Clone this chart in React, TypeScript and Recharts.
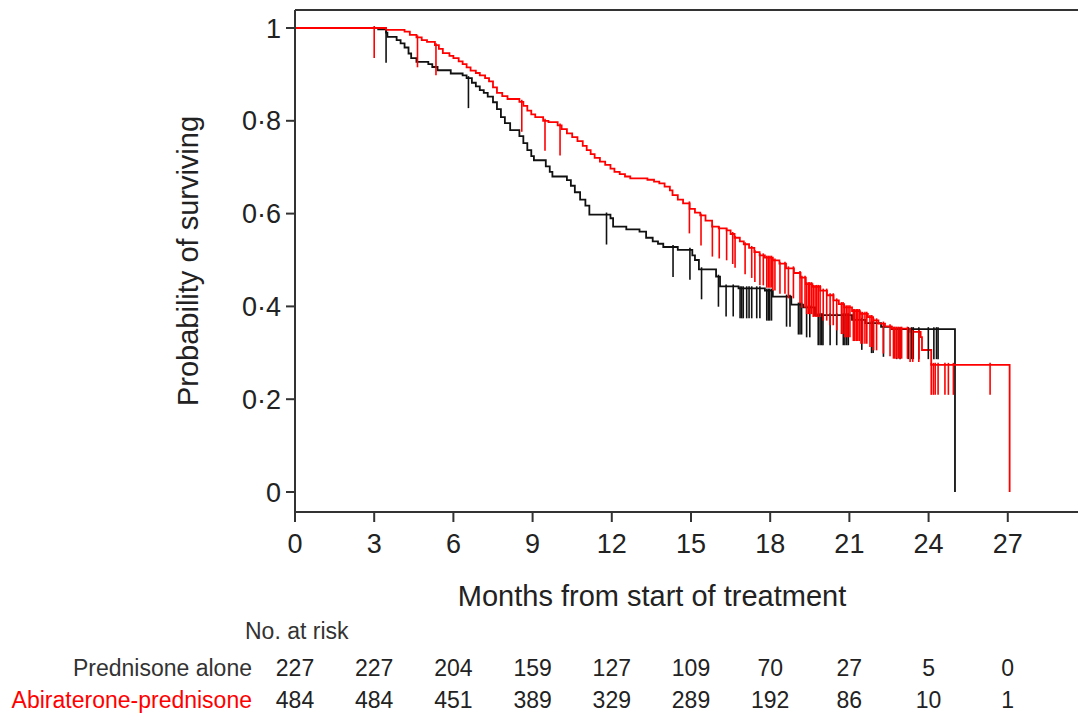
import { ComposedChart, Line, Scatter, XAxis, YAxis, ReferenceLine } from "recharts";

// x axis ticks (months) and numbers at risk under each tick
const months = [0, 3, 6, 9, 12, 15, 18, 21, 24, 27];
const predAtRisk = [227, 227, 204, 159, 127, 109, 70, 27, 5, 0];
const abiAtRisk = [484, 484, 451, 389, 329, 289, 192, 86, 10, 1];

const yTicks = [0, 0.2, 0.4, 0.6, 0.8, 1];

// Kaplan-Meier steps: Prednisone alone (black)
const predTime = [
  0, 3.15, 3.45, 3.5, 3.85, 4.0, 4.15, 4.3, 4.4, 4.6, 5.05, 5.2, 5.4, 5.9, 6.35,
  6.5, 6.7, 6.85, 7.0, 7.15, 7.3, 7.5, 7.65, 7.8, 7.95, 8.15, 8.5, 8.65, 8.8,
  8.95, 9.05, 9.5, 9.65, 9.75, 10.3, 10.45, 10.6, 10.8, 11.0, 11.15, 11.95,
  12.05, 12.55, 13.05, 13.3, 13.55, 13.75, 13.95, 14.5, 15.05, 15.15, 15.3,
  15.95, 16.1, 16.8, 17.8, 18.1, 18.8, 19.25, 19.7, 21.1, 21.6, 22.2, 22.6, 25.0,
];
const predSurv = [
  1, 0.997, 0.99, 0.981, 0.974, 0.967, 0.958, 0.945, 0.935, 0.927, 0.922, 0.916,
  0.909, 0.902, 0.898, 0.892, 0.882, 0.874, 0.866, 0.86, 0.852, 0.84, 0.825,
  0.808, 0.795, 0.78, 0.767, 0.752, 0.737, 0.724, 0.715, 0.702, 0.69, 0.68,
  0.672, 0.66, 0.646, 0.63, 0.617, 0.598, 0.59, 0.572, 0.566, 0.561, 0.548,
  0.54, 0.535, 0.528, 0.522, 0.51, 0.5, 0.48, 0.464, 0.443, 0.439, 0.434,
  0.421, 0.404, 0.398, 0.381, 0.371, 0.364, 0.356, 0.351, 0,
];
const predCensor = [
  3.45, 6.57, 11.8, 14.32, 14.96, 15.4, 16.04, 16.33, 16.6, 16.86, 16.92, 16.98,
  17.11, 17.2, 17.3, 17.49, 17.61, 17.87, 17.93, 17.98, 18.05, 18.62, 18.75,
  19.07, 19.13, 19.19, 19.38, 19.5, 19.82, 19.89, 19.95, 20.0, 20.27, 20.52,
  20.77, 20.83, 20.9, 20.96, 21.47, 21.84, 21.9, 22.29, 22.79, 22.92, 23.23,
  23.36, 23.42, 23.63, 23.99, 24.2, 24.3, 24.36,
];

// Abiraterone-prednisone (red)
const abiTime = [
  0, 3.45, 4.15, 4.35, 4.6, 4.8, 5.0, 5.3, 5.45, 5.6, 5.85, 6.0, 6.2, 6.35, 6.5,
  6.65, 6.85, 7.0, 7.2, 7.35, 7.5, 7.65, 7.85, 8.05, 8.5, 8.65, 8.8, 8.95, 9.1,
  9.4, 9.6, 9.95, 10.1, 10.3, 10.5, 10.7, 10.9, 11.05, 11.2, 11.35, 11.55,
  11.75, 11.95, 12.1, 12.3, 12.5, 12.7, 13.35, 13.6, 13.8, 14.0, 14.2, 14.3,
  14.5, 14.7, 14.95, 15.15, 15.35, 15.55, 15.8, 16.05, 16.35, 16.5, 16.65,
  16.85, 17.0, 17.2, 17.4, 17.6, 17.8, 18.1, 18.35, 18.6, 18.9, 19.15, 19.35,
  19.6, 19.9, 20.15, 20.4, 20.6, 20.8, 21.1, 21.4, 21.7, 21.9, 22.1, 22.35,
  22.6, 23.3, 23.7, 23.75, 24.1, 27.07,
];
const abiSurv = [
  1, 0.996, 0.992, 0.985, 0.98, 0.974, 0.97, 0.963, 0.955, 0.946, 0.94, 0.935,
  0.928, 0.922, 0.915, 0.908, 0.903, 0.898, 0.892, 0.885, 0.872, 0.86, 0.853,
  0.847, 0.841, 0.832, 0.822, 0.814, 0.808, 0.8, 0.797, 0.79, 0.782, 0.773,
  0.765, 0.756, 0.746, 0.737, 0.728, 0.72, 0.712, 0.705, 0.697, 0.69, 0.685,
  0.68, 0.676, 0.673, 0.669, 0.665, 0.658, 0.65, 0.64, 0.63, 0.622, 0.61,
  0.602, 0.596, 0.585, 0.572, 0.568, 0.564, 0.556, 0.548, 0.54, 0.534, 0.526,
  0.517, 0.51, 0.505, 0.499, 0.492, 0.482, 0.472, 0.462, 0.448, 0.442, 0.434,
  0.424, 0.413, 0.405, 0.398, 0.39, 0.384, 0.377, 0.37, 0.363, 0.357, 0.352,
  0.345, 0.334, 0.306, 0.274, 0,
];
const abiCensor = [
  3.0, 4.64, 5.34, 8.59, 9.47, 10.04, 14.94, 15.38, 15.81, 16.07, 16.35, 16.58,
  16.67, 17.05, 17.3, 17.42, 17.61, 17.74, 17.87, 17.93, 17.99, 18.05, 18.1,
  18.18, 18.37, 18.56, 18.69, 18.88, 19.13, 19.2, 19.32, 19.38, 19.45, 19.5,
  19.57, 19.63, 19.7, 19.76, 19.82, 19.89, 20.01, 20.14, 20.27, 20.39, 20.52,
  20.7, 20.76, 20.82, 20.89, 20.95, 21.02, 21.15, 21.2, 21.26, 21.32, 21.38,
  21.44, 21.5, 21.59, 21.66, 21.78, 21.85, 21.92, 22.03, 22.29, 22.54, 22.67,
  22.72, 22.78, 22.85, 22.92, 22.98, 23.2, 23.3, 23.4, 23.63, 24.1, 24.18,
  24.25, 24.36, 24.62, 24.75, 24.94, 26.33,
];

const RED = "#ff0000";
const BLACK = "#111";
const AXIS = "#333";
const FONT = "'Liberation Sans', Arial, Helvetica, sans-serif";

const toSteps = (time: number[], surv: number[]) =>
  time.map((t, i) => ({ t, s: surv[i] }));

// survival value of the step curve at time t
const survAt = (time: number[], surv: number[], t: number) => {
  let v = surv[0];
  for (let i = 0; i < time.length; i++) {
    if (time[i] <= t) v = surv[i];
  }
  return v;
};

const toCensor = (times: number[], time: number[], surv: number[]) =>
  times.map((t) => ({ t, s: survAt(time, surv, t) }));

const predSteps = toSteps(predTime, predSurv);
const abiSteps = toSteps(abiTime, abiSurv);
const predMarks = toCensor(predCensor, predTime, predSurv);
const abiMarks = toCensor(abiCensor, abiTime, abiSurv);

const X_MAX = 29.66;
const Y_MIN = -0.0431;
const Y_MAX = 1.0388;

const tickMark = (color: string) => (props: any) => {
  const { cx, cy } = props;
  return (
    <line x1={cx} x2={cx} y1={cy - 2} y2={cy + 30} stroke={color} strokeWidth={1.6} />
  );
};

const fmtY = (v: number) => (v === 0 || v === 1 ? String(v) : v.toFixed(1).replace(".", "\u00b7"));

const xPix = (m: number) => 295 + (m / X_MAX) * (1078 - 295);

const abs = (left: number, top: number, size: number, extra: any = {}) => ({
  position: "absolute" as const,
  left,
  top,
  fontSize: size,
  lineHeight: 1,
  fontFamily: FONT,
  whiteSpace: "nowrap" as const,
  ...extra,
});

export default function App() {
  return (
    <div style={{ position: "absolute", left: 0, top: 0, width: 1078, height: 715, background: "#fff" }}>
      <ComposedChart
        width={1078}
        height={715}
        margin={{ top: 10, right: 0, bottom: 173, left: 215 }}
      >
        <XAxis
          dataKey="t"
          type="number"
          domain={[0, X_MAX]}
          allowDataOverflow
          ticks={months}
          interval={0}
          height={30}
          tickSize={10}
          tickMargin={12}
          axisLine={{ stroke: AXIS, strokeWidth: 2 }}
          tickLine={{ stroke: AXIS, strokeWidth: 2 }}
          tick={{ fill: "#222", fontSize: 27, fontFamily: FONT }}
        />
        <YAxis
          dataKey="s"
          type="number"
          domain={[Y_MIN, Y_MAX]}
          allowDataOverflow
          ticks={yTicks}
          interval={0}
          width={80}
          tickSize={9}
          tickMargin={5}
          tickFormatter={fmtY}
          axisLine={{ stroke: AXIS, strokeWidth: 2 }}
          tickLine={{ stroke: AXIS, strokeWidth: 2 }}
          tick={{ fill: "#222", fontSize: 27, fontFamily: FONT }}
        />
        <ReferenceLine y={Y_MAX} stroke={AXIS} strokeWidth={2} />
        <Line
          data={predSteps}
          dataKey="s"
          type="stepAfter"
          stroke={BLACK}
          strokeWidth={1.8}
          dot={false}
          isAnimationActive={false}
        />
        <Line
          data={abiSteps}
          dataKey="s"
          type="stepAfter"
          stroke={RED}
          strokeWidth={1.8}
          dot={false}
          isAnimationActive={false}
        />
        <Scatter data={predMarks} dataKey="s" shape={tickMark(BLACK)} isAnimationActive={false} />
        <Scatter data={abiMarks} dataKey="s" shape={tickMark(RED)} isAnimationActive={false} />
      </ComposedChart>

      <div style={abs(188, 261, 29, { color: "#222", transform: "translate(-50%, -50%) rotate(-90deg)" })}>
        Probability of surviving
      </div>
      <div style={abs(652, 582, 29, { color: "#222", transform: "translateX(-50%)" })}>
        Months from start of treatment
      </div>

      <div style={abs(245, 620, 23, { color: "#333" })}>No. at risk</div>
      <div style={abs(0, 657, 23, { color: "#333", width: 252, textAlign: "right" })}>Prednisone alone</div>
      <div style={abs(0, 689, 23, { color: RED, width: 252, textAlign: "right" })}>Abiraterone-prednisone</div>
      {months.map((m, i) => (
        <div key={"p" + m} style={abs(xPix(m), 657, 23, { color: "#222", transform: "translateX(-50%)" })}>
          {predAtRisk[i]}
        </div>
      ))}
      {months.map((m, i) => (
        <div key={"a" + m} style={abs(xPix(m), 689, 23, { color: "#222", transform: "translateX(-50%)" })}>
          {abiAtRisk[i]}
        </div>
      ))}
    </div>
  );
}
